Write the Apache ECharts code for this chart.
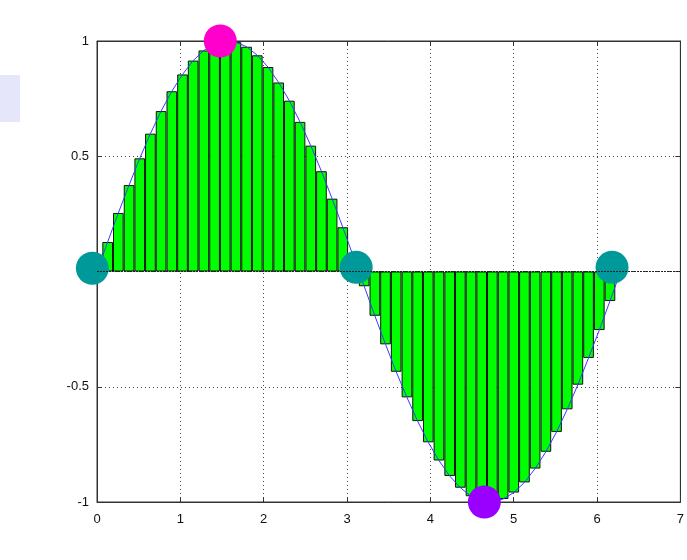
<!DOCTYPE html>
<html>
<head>
<meta charset="utf-8">
<script src="https://cdn.jsdelivr.net/npm/echarts@6/dist/echarts.min.js"></script>
<style>
  html, body { margin: 0; padding: 0; background: #fff; }
  #chart { width: 687px; height: 560px; }
</style>
</head>
<body>
<div id="chart"></div>
<script>
// Sample positions (one full period, 50 samples)
const xs = [
  0.000, 0.128, 0.256, 0.385, 0.513, 0.641, 0.769, 0.898, 1.026, 1.154,
  1.282, 1.411, 1.539, 1.667, 1.795, 1.923, 2.052, 2.180, 2.308, 2.436,
  2.565, 2.693, 2.821, 2.949, 3.077, 3.206, 3.334, 3.462, 3.590, 3.719,
  3.847, 3.975, 4.103, 4.232, 4.360, 4.488, 4.616, 4.744, 4.873, 5.001,
  5.129, 5.257, 5.386, 5.514, 5.642, 5.770, 5.898, 6.027, 6.155, 6.283
];
// Sampled values
const ys = [
  0.000, 0.128, 0.254, 0.375, 0.491, 0.598, 0.696, 0.782, 0.855, 0.915,
  0.959, 0.987, 0.999, 0.995, 0.975, 0.938, 0.887, 0.820, 0.741, 0.649,
  0.546, 0.435, 0.316, 0.192, 0.064, -0.064, -0.192, -0.316, -0.435, -0.546,
  -0.649, -0.741, -0.820, -0.887, -0.938, -0.975, -0.995, -0.999, -0.987, -0.959,
  -0.915, -0.855, -0.782, -0.696, -0.598, -0.491, -0.375, -0.254, -0.128, 0.000
];
// Highlighted points: zero crossings, maximum, minimum
const zeroPts = [[-0.056, 0.014], [3.110, 0.018], [6.180, 0.018]];
const maxPts = [[1.479, 1.000]];
const minPts = [[4.648, -1.000]];

const xTicks = [0, 1, 2, 3, 4, 5, 6, 7];
const yTicks = [-1, -0.5, 0, 0.5, 1];

const pairs = xs.map((x, i) => [x, ys[i]]);

const chart = echarts.init(document.getElementById('chart'), null, { renderer: 'canvas' });

const gridLine = { show: true, lineStyle: { color: '#444', type: [1, 3], width: 1 } };
const labelStyle = { color: '#111', fontSize: 13, fontFamily: 'Liberation Sans, Arial, sans-serif' };
const frameLine = { show: true, onZero: false, lineStyle: { color: '#333' } };
const innerTick = { show: true, inside: true, length: 5, lineStyle: { color: '#333' } };

chart.setOption({
  animation: false,
  backgroundColor: '#fff',
  grid: {
    left: 97, right: 5, top: 41, bottom: 58,
    show: true, borderColor: '#333', borderWidth: 1, backgroundColor: 'transparent'
  },
  graphic: [{
    type: 'rect', left: 0, top: 75,
    shape: { width: 20, height: 47 },
    style: { fill: '#e6e6fb' }, z: -1
  }],
  xAxis: [{
    type: 'value', min: xTicks[0], max: xTicks[xTicks.length - 1], interval: 1,
    axisLine: frameLine, axisTick: innerTick,
    axisLabel: Object.assign({ margin: 11 }, labelStyle),
    splitLine: gridLine
  }, {
    type: 'value', position: 'top', min: xTicks[0], max: xTicks[xTicks.length - 1], interval: 1,
    axisLine: frameLine, axisTick: innerTick,
    axisLabel: { show: false }, splitLine: { show: false }
  }],
  yAxis: [{
    type: 'value', min: yTicks[0], max: yTicks[yTicks.length - 1], interval: 0.5,
    axisLine: frameLine, axisTick: innerTick,
    axisLabel: Object.assign({ margin: 8, formatter: v => String(v) }, labelStyle),
    splitLine: gridLine
  }, {
    type: 'value', position: 'right', min: yTicks[0], max: yTicks[yTicks.length - 1], interval: 0.5,
    axisLine: frameLine, axisTick: innerTick,
    axisLabel: { show: false }, splitLine: { show: false }
  }],
  series: [{
    type: 'bar',
    data: pairs,
    barWidth: '100%',
    itemStyle: { color: '#00ff00', borderColor: '#111', borderWidth: 1 },
    // darker zero baseline across the plot
    markLine: {
      silent: true, symbol: 'none', label: { show: false },
      lineStyle: { color: '#222', type: [2, 1], width: 1 },
      data: [{ yAxis: 0 }]
    },
    z: 2
  }, {
    type: 'line',
    data: pairs,
    showSymbol: false,
    lineStyle: { color: '#3a3aff', width: 1 },
    z: 3
  }, {
    type: 'scatter', data: zeroPts, symbolSize: 33, clip: false,
    itemStyle: { color: '#009999', opacity: 1 }, z: 4
  }, {
    type: 'scatter', data: maxPts, symbolSize: 33, clip: false,
    itemStyle: { color: '#ff00cc', opacity: 1 }, z: 4
  }, {
    type: 'scatter', data: minPts, symbolSize: 33, clip: false,
    itemStyle: { color: '#9900ff', opacity: 1 }, z: 4
  }]
});
</script>
</body>
</html>
